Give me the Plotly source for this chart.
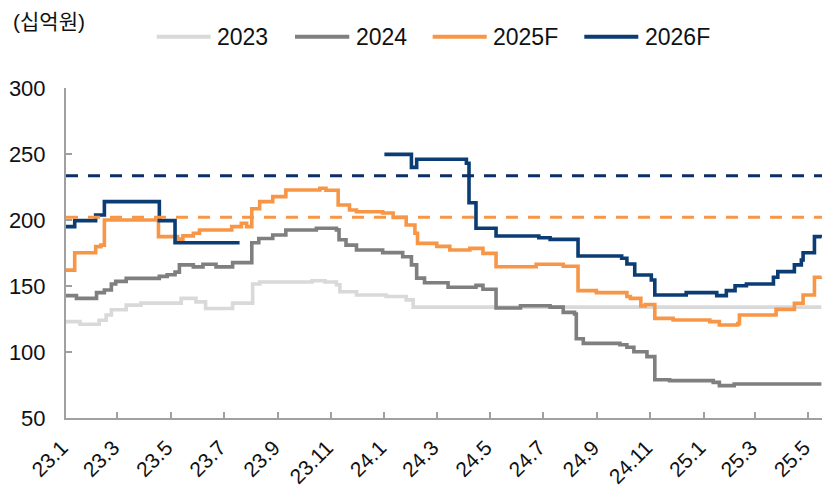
import plotly.graph_objects as go

# Consensus operating profit by fiscal year (unit: KRW 10억), daily revisions as steps
dates_2023 = ["2023-01-01", "2023-01-17", "2023-02-08", "2023-02-16", "2023-02-22", "2023-03-11",
              "2023-03-28", "2023-05-13", "2023-05-30", "2023-06-10", "2023-07-11", "2023-08-03",
              "2023-08-11", "2023-10-10", "2023-10-25", "2023-11-07", "2023-11-11", "2023-11-30",
              "2024-01-03", "2024-01-26", "2024-02-03", "2025-05-16"]
values_2023 = [123, 121, 124, 128, 132, 135.5, 137, 140.6, 138, 133, 137, 151.5,
               153, 154, 153, 151, 145.7, 143.2, 142, 139.5, 134, 134]

dates_2024 = ["2023-01-01", "2023-01-13", "2023-02-05", "2023-02-14", "2023-02-22", "2023-02-27",
              "2023-03-11", "2023-04-18", "2023-04-27", "2023-05-06", "2023-05-11", "2023-05-27",
              "2023-06-07", "2023-06-22", "2023-07-11", "2023-08-02", "2023-08-10", "2023-08-26",
              "2023-09-10", "2023-10-15", "2023-11-07", "2023-11-10", "2023-11-18", "2023-11-30",
              "2023-12-30", "2024-01-22", "2024-02-01", "2024-02-07", "2024-02-16", "2024-03-14",
              "2024-04-15", "2024-04-23", "2024-05-08", "2024-06-05", "2024-07-09", "2024-07-24",
              "2024-08-06", "2024-08-08", "2024-08-16", "2024-09-27", "2024-10-05", "2024-10-13",
              "2024-10-28", "2024-11-06", "2024-11-23", "2025-01-12", "2025-01-19", "2025-02-05",
              "2025-05-16"]
values_2024 = [142.7, 140.6, 145, 147, 151.5, 153.5,
               155.8, 157.3, 158.5, 160.5, 166, 164.5,
               166.5, 164.5, 167.7, 182.8, 186, 188.6,
               192.4, 193.7, 192.5, 185, 181, 177.3,
               175.3, 172.2, 166, 156, 152.5, 149,
               150.5, 147.5, 133.3, 135, 134, 130,
               128.8, 110, 106.5, 105.5, 103.6, 100.2,
               96.5, 79, 78.3, 77, 74.5, 75.8,
               75.8]

dates_2025f = ["2023-01-01", "2023-01-11", "2023-02-04", "2023-02-10", "2023-02-14", "2023-04-17",
               "2023-05-09", "2023-05-15", "2023-05-27", "2023-06-03", "2023-07-10", "2023-07-21",
               "2023-07-27", "2023-08-02", "2023-08-11", "2023-08-26", "2023-09-10", "2023-10-19",
               "2023-10-26", "2023-11-09", "2023-11-22", "2023-11-30", "2023-12-30", "2024-01-11",
               "2024-01-26", "2024-02-05", "2024-02-08", "2024-03-01", "2024-03-16", "2024-04-08",
               "2024-04-23", "2024-05-08", "2024-06-23", "2024-07-24", "2024-08-10", "2024-08-31",
               "2024-10-05", "2024-10-09", "2024-10-21", "2024-10-26", "2024-11-06", "2024-11-27",
               "2025-01-08", "2025-01-19", "2025-02-09", "2025-02-11", "2025-03-25", "2025-04-15",
               "2025-04-25", "2025-05-08", "2025-05-16"]
values_2025f = [162, 175.2, 179.8, 181, 200, 187.4,
                185.5, 188, 190, 192.4, 195, 197.5,
                195, 208.5, 213.9, 217.7, 222.7, 224,
                222.5, 211.4, 207.6, 206.3, 205.3, 202,
                196.2, 190, 182.3, 180, 177.3, 178.5,
                174.7, 164.6, 166.5, 165, 146.5, 145,
                142, 140.6, 134.8, 136, 125.5, 124.2,
                123, 120.5, 121.5, 128, 132.3, 136.9,
                143.2, 156.6, 157]

dates_2026f = ["2023-01-01", "2023-01-11", "2023-02-04", "2023-02-14", "2023-04-18", "2023-05-06",
               "2023-07-19", "2023-10-01",
               "2024-01-01", "2024-01-27", "2024-02-01", "2024-02-07", "2024-04-04", "2024-04-07",
               "2024-04-15", "2024-05-08", "2024-06-26", "2024-07-09", "2024-08-10", "2024-09-29",
               "2024-10-05", "2024-10-14", "2024-11-02", "2024-11-06", "2024-12-12", "2025-01-16",
               "2025-01-27", "2025-02-06", "2025-02-19", "2025-03-22", "2025-03-27", "2025-04-15",
               "2025-04-23", "2025-04-25", "2025-05-08", "2025-05-16"]
values_2026f = [195, 199.5, 203.8, 213.9, 199.5, 182.8,
                182.8, None,
                249.7, 249.7, 239.9, 246, 243, 213.1,
                193.7, 187.9, 186.5, 185.3, 172.7, 171,
                166.7, 158.3, 154.5, 143.2, 145, 142.7,
                146.5, 150.2, 151.5, 156.6, 160.9, 166,
                169.7, 175.2, 187.4, 186.7]

# Reference levels drawn as dashed horizontals
ref_2026f = 233.6
ref_2025f = 202

tick_dates = ["2023-01-01", "2023-03-01", "2023-05-01", "2023-07-01", "2023-09-01", "2023-11-01",
              "2024-01-01", "2024-03-01", "2024-05-01", "2024-07-01", "2024-09-01", "2024-11-01",
              "2025-01-01", "2025-03-01", "2025-05-01"]
tick_labels = ["23.1", "23.3", "23.5", "23.7", "23.9", "23.11",
               "24.1", "24.3", "24.5", "24.7", "24.9", "24.11",
               "25.1", "25.3", "25.5"]

series_names = ["2023", "2024", "2025F", "2026F"]
colors = ["#d9d9d9", "#7f7f7f", "#f79646", "#0b3d74"]
all_dates = [dates_2023, dates_2024, dates_2025f, dates_2026f]
all_values = [values_2023, values_2024, values_2025f, values_2026f]

FONT = "Liberation Sans, Arial, Noto Sans CJK KR, sans-serif"
AXIS_GRAY = "#a0a0a0"

fig = go.Figure()
for name, d, v, c in zip(series_names, all_dates, all_values, colors):
    fig.add_trace(go.Scatter(
        x=d, y=v, name=name, mode="lines",
        line=dict(color=c, width=3.6, shape="hv"),
        connectgaps=False, showlegend=False,
    ))

fig.add_hline(y=ref_2026f, line=dict(color="#0b2f66", width=3, dash="12px,10px"))
fig.add_hline(y=ref_2025f, line=dict(color="#f79646", width=3, dash="12px,10px"))

# Legend row drawn across the top
legend_x = [(0.120, 0.1914, 0.197), (0.3029, 0.3747, 0.381),
            (0.485, 0.5565, 0.5625), (0.6856, 0.757, 0.763)]
leg_y = 1.1555
for name, c, (x0, x1, xt) in zip(series_names, colors, legend_x):
    fig.add_shape(type="line", xref="paper", yref="paper", x0=x0, x1=x1, y0=leg_y, y1=leg_y,
                  line=dict(color=c, width=4))
    fig.add_annotation(xref="paper", yref="paper", x=xt, y=leg_y, text=name, showarrow=False,
                       xanchor="left", yanchor="middle", font=dict(size=23, color="#111111"))

fig.add_annotation(xref="paper", yref="paper", x=-0.0728, y=1.203, text="(십억원)",
                   showarrow=False, xanchor="left", yanchor="middle",
                   font=dict(size=21, color="#111111"))

# rotated date labels: a trailing no-break space nudges each label down-left of its tick
rotated_labels = [t + "\u00a0" for t in tick_labels]

fig.update_layout(
    width=831, height=489,
    margin=dict(l=66, r=9, t=88, b=71, autoexpand=False),
    paper_bgcolor="white", plot_bgcolor="white",
    font=dict(family=FONT, color="#111111"),
    xaxis=dict(
        type="date", range=["2023-01-01", "2025-05-16 16:00"],
        tickmode="array", tickvals=tick_dates, ticktext=rotated_labels,
        tickangle=-45, ticks="inside", ticklen=6, tickwidth=1.5, tickcolor=AXIS_GRAY,
        showline=True, linecolor=AXIS_GRAY, linewidth=2,
        showgrid=False, zeroline=False, tickfont=dict(size=21),
        ticklabelstandoff=3, automargin=False,
    ),
    yaxis=dict(
        range=[50, 300], tickvals=[50, 100, 150, 200, 250, 300],
        ticks="inside", ticklen=6, tickwidth=1.5, tickcolor=AXIS_GRAY,
        showline=True, linecolor=AXIS_GRAY, linewidth=2,
        showgrid=False, zeroline=False, tickfont=dict(size=22),
        ticklabelstandoff=14, automargin=False,
    ),
)

fig.write_html("out.html")
